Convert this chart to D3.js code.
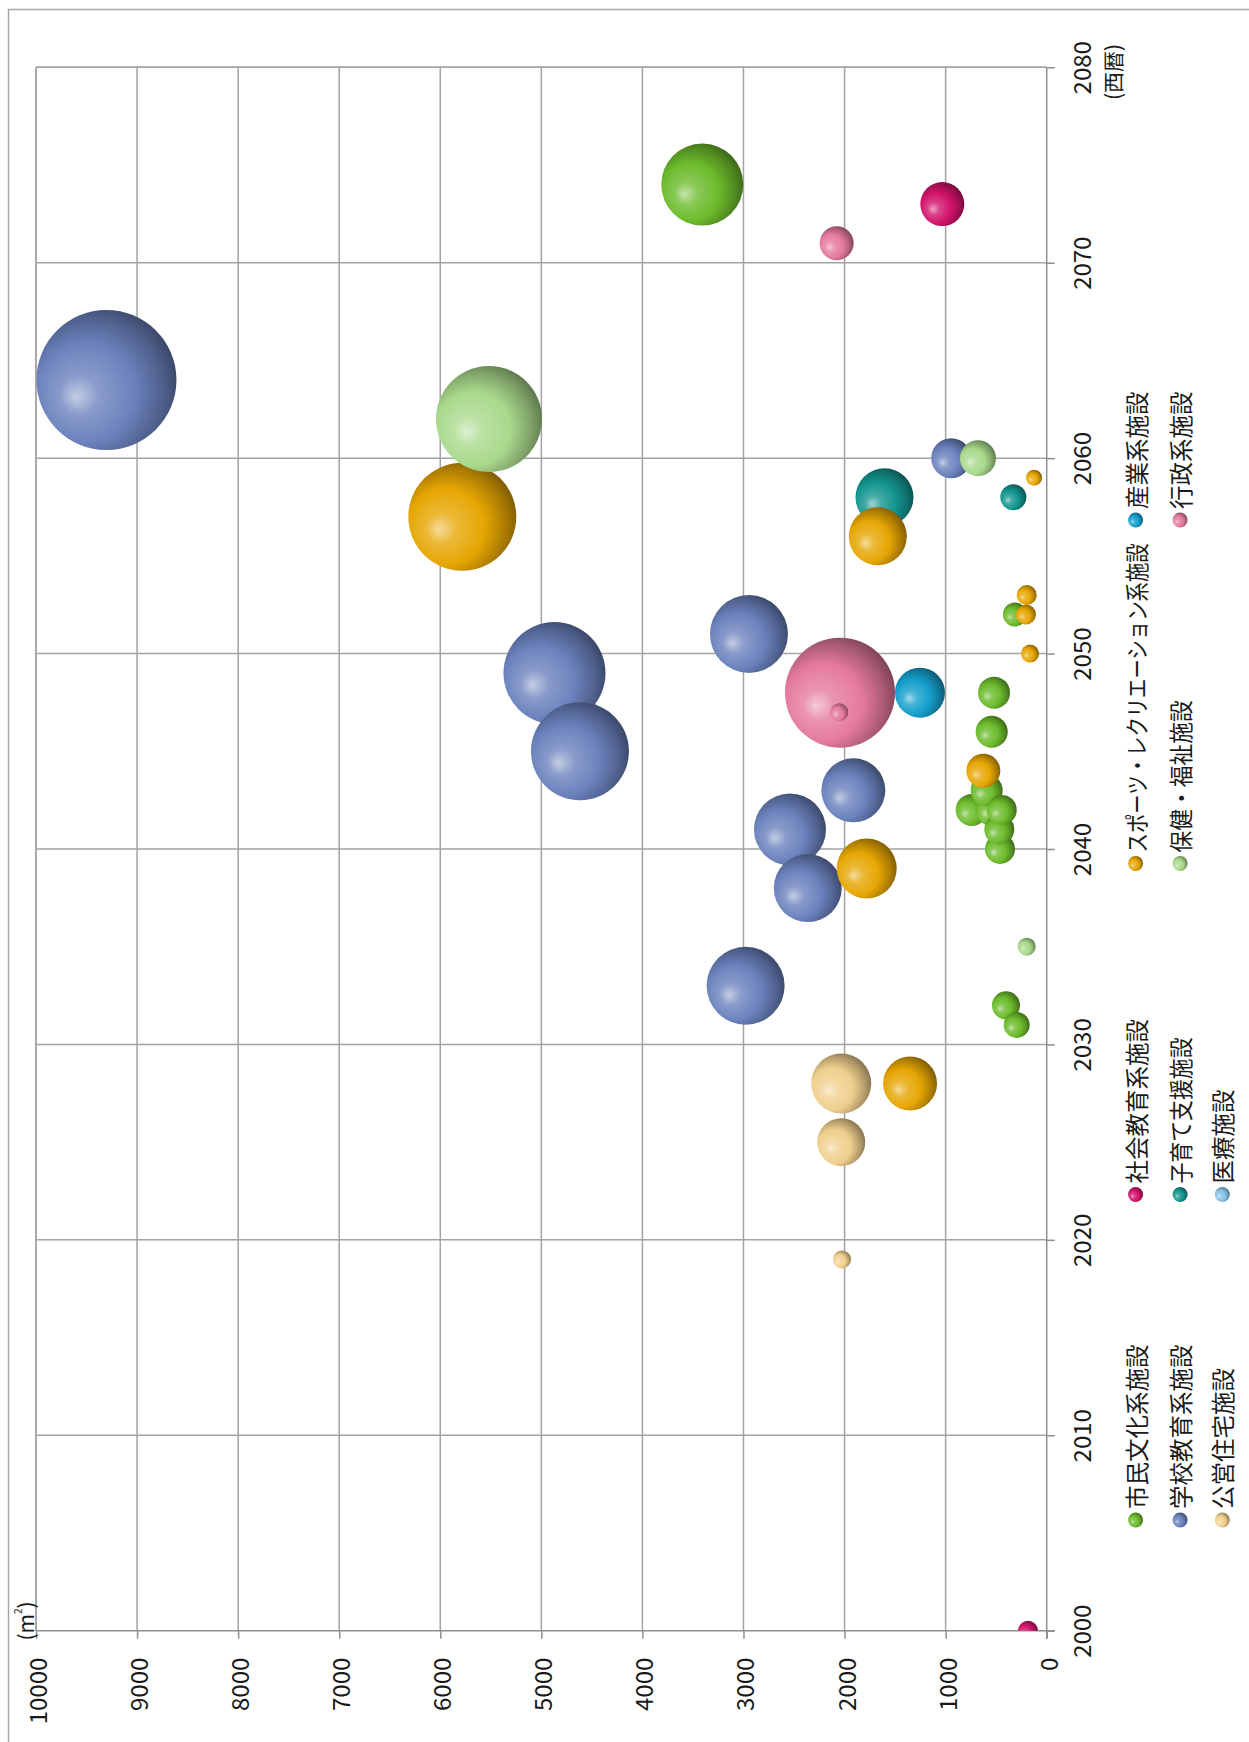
<!DOCTYPE html>
<html><head><meta charset="utf-8">
<script src="https://cdn.jsdelivr.net/npm/d3@7"></script>
<style>
html,body{margin:0;padding:0;background:#fff;}
svg{display:block;font-family:"Noto Sans CJK JP","Noto Sans",sans-serif;}
</style></head>
<body>
<svg id="chart" width="1249" height="1742"></svg>
<script>
// ---- data ----
const seriesNames = ["市民文化系施設","社会教育系施設","スポーツ・レクリエーション系施設","産業系施設",
                     "学校教育系施設","子育て支援施設","保健・福祉施設","行政系施設",
                     "公営住宅施設","医療施設"];
const seriesColors = ["#6cbb2c","#d2136b","#e6a604","#159fcd","#6b82bd","#14958f","#a9d98c","#e57a9c","#f0cf8e","#86c4e8"];
const yearTicks = [2000,2010,2020,2030,2040,2050,2060,2070,2080];
const valueTicks = [0,1000,2000,3000,4000,5000,6000,7000,8000,9000,10000];
// each point: [year, area (m2), bubble size]
const shiminBunka = [[2031,297,169],[2032,403,196],[2040,462,225],[2041,469,225],[2042,742,256],[2042,544,256],[2042,445,225],[2043,594,256],[2046,544,256],[2048,521,256],[2052,314,144],[2074,3408,1681]];
const shakaiKyoiku = [[2000,185,100],[2073,1033,484]];
const sports = [[2028,1352,729],[2039,1781,900],[2044,627,289],[2050,165,81],[2052,205,100],[2053,198,100],[2056,1671,841],[2057,5782,2916],[2059,125,64]];
const sangyo = [[2048,1254,625]];
const gakko = [[2033,2979,1521],[2038,2364,1156],[2041,2540,1296],[2043,1913,1024],[2045,4618,2401],[2049,4870,2601],[2051,2946,1521],[2060,945,400],[2064,9303,4900]];
const kosodate = [[2058,1605,841],[2058,330,169]];
const hokenFukushi = [[2035,198,81],[2060,680,324],[2062,5518,2809]];
const gyosei = [[2047,2052,81],[2048,2045,3025],[2071,2078,289]];
const koeiJutaku = [[2019,2025,81],[2025,2033,576],[2028,2033,900]];
const iryo = [];
const seriesData = [shiminBunka,shakaiKyoiku,sports,sangyo,gakko,kosodate,hokenFukushi,gyosei,koeiJutaku,iryo];
// drawing order of series (column-major legend order)
const drawOrder = [0,4,8,1,5,9,2,6,3,7];

// ---- layout ----
const svg = d3.select("#chart");
const X0 = 36, X1 = 1046.7, Y0 = 67.3, Y1 = 1630.7;
const xVal = d3.scaleLinear().domain([0,10000]).range([X1, X0]);
const yYear = d3.scaleLinear().domain([2000,2080]).range([Y1, Y0]);
const rScale = d3.scaleSqrt().domain([0,4900]).range([0,70]);

// outer frame (partially visible)
svg.append("path").attr("d",`M8.5,1742 L8.5,9.5 L1249,9.5`).attr("fill","none").attr("stroke","#a6a6a6").attr("stroke-width",1.5);

const defs = svg.append("defs");
seriesColors.forEach((c,i)=>{
  const g = defs.append("radialGradient").attr("id","g"+i)
    .attr("cx",0.4).attr("cy",0.57).attr("r",0.64).attr("fx",0.28).attr("fy",0.62);
  const base = d3.color(c);
  g.append("stop").attr("offset","0%").attr("stop-color",d3.interpolateRgb(c,"#ffffff")(0.6));
  g.append("stop").attr("offset","22%").attr("stop-color",d3.interpolateRgb(c,"#ffffff")(0.2));
  g.append("stop").attr("offset","55%").attr("stop-color",c);
  g.append("stop").attr("offset","82%").attr("stop-color",base.darker(0.85).formatHex());
  g.append("stop").attr("offset","100%").attr("stop-color",base.darker(1.8).formatHex());
});
defs.append("clipPath").attr("id","plotclip").append("rect")
  .attr("x",X0).attr("y",Y0).attr("width",X1-X0).attr("height",Y1-Y0);

const gridColor = "#a3a3a3";
// gridlines
svg.append("g").selectAll("line").data(valueTicks.filter(v=>v>0)).join("line")
  .attr("x1",d=>xVal(d)).attr("x2",d=>xVal(d)).attr("y1",Y0).attr("y2",Y1)
  .attr("stroke",gridColor).attr("stroke-width",1.5);
svg.append("g").selectAll("line").data(yearTicks.filter(v=>v>2000)).join("line")
  .attr("y1",d=>yYear(d)).attr("y2",d=>yYear(d)).attr("x1",X0).attr("x2",X1)
  .attr("stroke",gridColor).attr("stroke-width",1.5);

// axes
const axV = svg.append("g").attr("transform",`translate(0,${Y1})`)
  .call(d3.axisBottom(xVal).tickValues(valueTicks).tickSize(8).tickSizeOuter(0).tickFormat(d3.format("d")));
const axY = svg.append("g").attr("transform",`translate(${X1},0)`)
  .call(d3.axisRight(yYear).tickValues(yearTicks).tickSize(8).tickSizeOuter(0).tickFormat(d3.format("d")));
[axV,axY].forEach(a=>{
  a.select(".domain").remove();
  a.selectAll(".tick line").attr("stroke","#8f8f8f").attr("stroke-width",1.5);
  a.selectAll("text").attr("fill","#1a1a1a").style("font-size","24px")
   .style("font-family",'"Noto Sans CJK JP",sans-serif');
});
axV.selectAll("text").attr("x",0).attr("y",0).attr("dy",null)
  .attr("transform","translate(0,27) rotate(-90)").attr("text-anchor","end").attr("dominant-baseline","central");
axY.selectAll("text").attr("x",0).attr("y",0).attr("dy",null)
  .attr("transform","translate(34,0) rotate(-90)").attr("text-anchor","middle").attr("dominant-baseline","central");
// axis lines
svg.append("line").attr("x1",X0).attr("x2",X1+8).attr("y1",Y1).attr("y2",Y1).attr("stroke","#8f8f8f").attr("stroke-width",1.5);
svg.append("line").attr("x1",X1).attr("x2",X1).attr("y1",Y0).attr("y2",Y1+8).attr("stroke","#8f8f8f").attr("stroke-width",1.5);
svg.append("line").attr("x1",X0).attr("x2",X0).attr("y1",Y0).attr("y2",Y1).attr("stroke",gridColor).attr("stroke-width",1.5);
svg.append("line").attr("x1",X0).attr("x2",X1).attr("y1",Y0).attr("y2",Y0).attr("stroke",gridColor).attr("stroke-width",1.5);

// unit labels
const unitM = svg.append("text").attr("transform","translate(25,1621) rotate(-90)").attr("text-anchor","middle")
  .attr("dominant-baseline","central").style("font-size","21px").attr("fill","#1a1a1a");
unitM.append("tspan").text("(m");
unitM.append("tspan").attr("dy",-8).style("font-size","10px").text("2");
unitM.append("tspan").attr("dy",8).text(")");
svg.append("text").attr("transform","translate(1112,72) rotate(-90)").attr("text-anchor","middle")
  .attr("dominant-baseline","central").style("font-size","21px").attr("fill","#1a1a1a").text("(西暦)");

// bubbles
const bub = svg.append("g").attr("clip-path","url(#plotclip)");
drawOrder.forEach(si=>{
  const pts = seriesData[si].slice().sort((a,b)=>b[2]-a[2]);
  bub.append("g").selectAll("circle").data(pts).join("circle")
    .attr("cx",d=>xVal(d[1])).attr("cy",d=>yYear(d[0])).attr("r",d=>rScale(d[2]))
    .attr("fill",`url(#g${si})`);
});

// legend
const legRowX = [1135.6,1180.1,1222.3];
const legColY = [1520,1194.5,863.4,520];
const legLen = [null,null,309,null,null,146,152,null,null,null];
const leg = svg.append("g");
seriesNames.forEach((n,i)=>{
  const row = Math.floor(i/4), col = i%4;
  const x = legRowX[row], y = legColY[col];
  leg.append("circle").attr("cx",x).attr("cy",y).attr("r",7.5).attr("fill",`url(#g${i})`);
  const t = leg.append("text").attr("transform",`translate(${x},${y-11}) rotate(-90)`)
    .attr("text-anchor","start").attr("dominant-baseline","central")
    .style("font-size","23.5px").attr("fill","#1a1a1a").text(n);
  if (legLen[i]) t.attr("textLength",legLen[i]).attr("lengthAdjust","spacingAndGlyphs");
});
</script>
</body></html>
